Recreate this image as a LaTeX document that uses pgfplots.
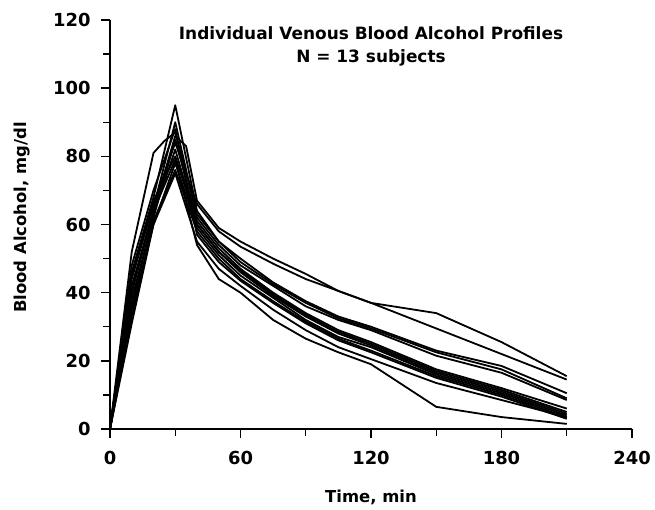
\documentclass[border=0pt]{standalone}
\usepackage{fontspec}
\setmainfont{DejaVu Sans}
\usepackage{pgfplots}
\pgfplotsset{compat=1.18}

\begin{document}
\begin{tikzpicture}
\begin{axis}[
  scale only axis, width=522bp, height=409bp,
  xmin=0, xmax=240, ymin=0, ymax=120,
  axis x line=bottom, axis y line=left,
  axis line style={-, line width=1.6bp, black},
  xtick={0,60,...,240}, minor xtick={30,90,150,210},
  ytick={0,20,...,120}, minor ytick={10,30,...,110},
  tick align=outside, major tick length=9bp, minor tick length=7bp,
  tick style={line width=1.4bp, black},
  /pgf/number format/assume math mode=true,
  ticklabel style={font=\bfseries\fontsize{18}{20}\selectfont},
  xticklabel style={yshift=-10bp},
  yticklabel style={xshift=-7bp},
  cycle list={black\\},
  every axis plot post/.append style={black, solid, line width=1.8bp, mark=none, line join=round},
  clip=false,
]
\coordinate (o) at (rel axis cs:0,0);
\node[font=\bfseries\fontsize{17}{19}\selectfont] at (rel axis cs:0.5,1) [yshift=-13bp] {Individual Venous Blood Alcohol Profiles};
\node[font=\bfseries\fontsize{17}{19}\selectfont] at (rel axis cs:0.5,1) [yshift=-38bp] {N = 13 subjects};
\node[font=\bfseries\fontsize{16.5}{19}\selectfont] at (rel axis cs:0.5,0) [yshift=-68bp] {Time, min};
\node[font=\bfseries\fontsize{16.5}{19}\selectfont] at (rel axis cs:0,0.5) [xshift=-88bp, yshift=7bp, rotate=90] {Blood Alcohol, mg/dl};

% A
\addplot coordinates {(0,0) (10,42) (20,64) (30,86) (35,83) (40,67) (50,59) (60,55) (75,50) (90,45.5) (105,40.5) (120,37) (150,34) (180,25.5) (210,15.5)};
% B
\addplot coordinates {(0,0) (10,44) (20,66) (30,84) (40,66) (50,58) (60,53.5) (75,48.5) (90,44) (105,40.5) (120,37) (150,29.5) (180,22) (210,14.5)};
% C
\addplot coordinates {(0,0) (10,52) (20,81) (25,84.5) (30,87) (40,63) (50,55) (60,50) (75,43) (90,37.5) (105,33) (120,30) (150,23) (180,18.5) (210,10.5)};
% D
\addplot coordinates {(0,0) (10,46) (20,68) (30,95) (40,64) (50,55) (60,49) (75,42.5) (90,37) (105,32.5) (120,29.5) (150,22.5) (180,17.5) (210,9)};
% E
\addplot coordinates {(0,0) (10,40) (20,65) (30,90) (40,62) (50,54) (60,48) (75,42) (90,36) (105,32) (120,29) (150,21.5) (180,16.5) (210,8.5)};
% F
\addplot coordinates {(0,0) (10,38) (20,62) (30,85) (40,61) (50,53) (60,47) (75,40) (90,34) (105,29) (120,25.5) (150,17.5) (180,12) (210,6)};
% G
\addplot coordinates {(0,0) (10,36) (20,63) (30,82) (40,60) (50,52) (60,46.5) (75,39.5) (90,33.5) (105,28.5) (120,25) (150,17) (180,11.5) (210,5)};
% H
\addplot coordinates {(0,0) (10,45) (20,67) (30,80) (40,60) (50,52) (60,46) (75,39) (90,33) (105,28) (120,24.5) (150,16.5) (180,11) (210,4.5)};
% I
\addplot coordinates {(0,0) (10,35) (20,60) (30,78) (40,59) (50,51) (60,45) (75,38.5) (90,32) (105,27) (120,24) (150,16) (180,10.5) (210,4)};
% J
\addplot coordinates {(0,0) (10,33) (20,61) (30,76) (40,58) (50,50) (60,44) (75,37.5) (90,31.5) (105,26.5) (120,23) (150,15.5) (180,10) (210,3.5)};
% K
\addplot coordinates {(0,0) (10,48) (20,70) (30,88) (40,57) (50,49) (60,43.5) (75,37) (90,31) (105,26) (120,22.5) (150,15) (180,9.5) (210,3)};
% L
\addplot coordinates {(0,0) (10,31) (20,60) (30,75) (40,55) (50,47) (60,42) (75,35) (90,29) (105,24) (120,20.5) (150,13.5) (180,8.5) (210,3.5)};
% M
\addplot coordinates {(0,0) (10,40) (20,64) (30,79) (40,54) (50,44) (60,40) (75,32) (90,26.5) (105,22.5) (120,19) (150,6.5) (180,3.5) (210,1.5)};
\end{axis}
\path (o) ++(-110bp,-81bp) rectangle ++(655bp,510bp);
\end{tikzpicture}
\end{document}
